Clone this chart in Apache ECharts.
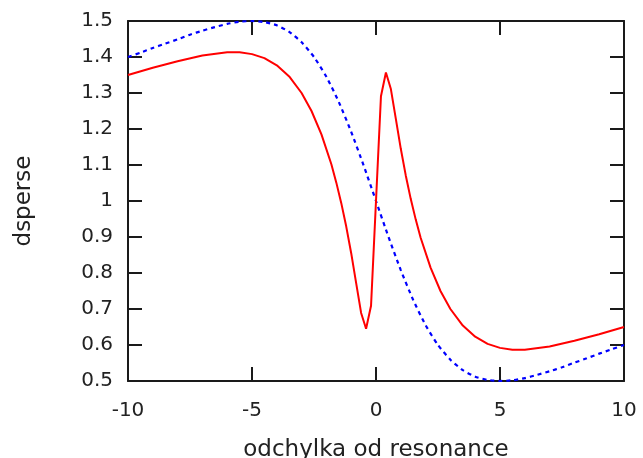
<!DOCTYPE html>
<html>
<head>
<meta charset="utf-8">
<script src="https://cdn.jsdelivr.net/npm/echarts@6/dist/echarts.min.js"></script>
<style>html,body{margin:0;padding:0;background:#fff}#c{width:643px;height:458px}</style>
</head>
<body>
<div id="c"></div>
<script>
// Data
var xTicks = [-10, -5, 0, 5, 10];
var redX = [-10, -9, -8, -7, -6, -5.5, -5, -4.5, -4, -3.5, -3, -2.6, -2.2, -1.8, -1.6, -1.4, -1.2, -1.0, -0.8, -0.6, -0.4, -0.2, 0, 0.2, 0.4, 0.6, 0.8, 1.0, 1.2, 1.4, 1.6, 1.8, 2.2, 2.6, 3, 3.5, 4, 4.5, 5, 5.5, 6, 7, 8, 9, 10];
var redY = [1.350, 1.370, 1.388, 1.404, 1.413, 1.413, 1.408, 1.397, 1.377, 1.346, 1.300, 1.250, 1.185, 1.102, 1.051, 0.994, 0.929, 0.855, 0.772, 0.689, 0.645, 0.709, 1.000, 1.291, 1.357, 1.311, 1.228, 1.145, 1.071, 1.006, 0.949, 0.898, 0.815, 0.750, 0.700, 0.654, 0.623, 0.603, 0.592, 0.587, 0.587, 0.596, 0.612, 0.630, 0.650];
var blueX = [-10, -9.5, -9, -8.5, -8, -7.5, -7, -6.5, -6, -5.5, -5, -4.5, -4, -3.5, -3, -2.5, -2, -1.5, -1, -0.5, 0, 0.5, 1, 1.5, 2, 2.5, 3, 3.5, 4, 4.5, 5, 5.5, 6, 6.5, 7, 7.5, 8, 8.5, 9, 9.5, 10];
var blueY = [1.400, 1.412, 1.425, 1.437, 1.449, 1.462, 1.473, 1.483, 1.492, 1.498, 1.500, 1.497, 1.488, 1.470, 1.441, 1.400, 1.345, 1.275, 1.192, 1.099, 1.000, 0.901, 0.808, 0.725, 0.655, 0.600, 0.559, 0.530, 0.512, 0.503, 0.500, 0.502, 0.508, 0.517, 0.527, 0.538, 0.551, 0.563, 0.576, 0.588, 0.600];

function pairs(xs, ys) { return xs.map(function (x, i) { return [x, ys[i]]; }); }

var chart = echarts.init(document.getElementById('c'), null, { renderer: 'canvas' });
var FONT = 'DejaVu Sans, sans-serif';
var lineCol = '#1a1a1a';
var txtCol = '#222222';
var tickStyle = { show: true, inside: true, length: 14, lineStyle: { color: lineCol, width: 2 } };
var axLine = { show: true, onZero: false, lineStyle: { color: lineCol, width: 2 } };

chart.setOption({
  animation: false,
  backgroundColor: '#ffffff',
  grid: { left: 128, right: 19, top: 21, bottom: 77, containLabel: false, outerBoundsMode: 'none' },
  xAxis: [{
    type: 'value', min: -10, max: 10, interval: 5, position: 'bottom',
    axisLine: axLine, axisTick: tickStyle, splitLine: { show: false },
    axisLabel: { fontSize: 20, color: txtCol, fontFamily: FONT, margin: 20,
      formatter: function (v) { return String(v); } },
    name: 'odchylka od resonance', nameLocation: 'middle', nameGap: 58,
    nameTextStyle: { fontSize: 23, color: txtCol, fontFamily: FONT }
  }, {
    type: 'value', min: -10, max: 10, interval: 5, position: 'top',
    axisLine: axLine, axisTick: tickStyle, splitLine: { show: false },
    axisLabel: { show: false }
  }],
  yAxis: [{
    type: 'value', min: 0.5, max: 1.5, interval: 0.1, position: 'left',
    axisLine: axLine, axisTick: tickStyle, splitLine: { show: false },
    axisLabel: { fontSize: 20, color: txtCol, fontFamily: FONT, margin: 15,
      formatter: function (v) { return String(+v.toFixed(1)); } },
    name: 'dsperse', nameLocation: 'middle', nameGap: 92, nameRotate: 90,
    nameTextStyle: { fontSize: 23, color: txtCol, fontFamily: FONT }
  }, {
    type: 'value', min: 0.5, max: 1.5, interval: 0.1, position: 'right',
    axisLine: axLine, axisTick: tickStyle, splitLine: { show: false },
    axisLabel: { show: false }
  }],
  series: [{
    type: 'line', name: 'red', xAxisIndex: 0, yAxisIndex: 0,
    data: pairs(redX, redY), showSymbol: false, symbol: 'none', clip: false,
    lineStyle: { color: '#ff0000', width: 2 }, z: 3
  }, {
    type: 'line', name: 'blue', xAxisIndex: 0, yAxisIndex: 0,
    data: pairs(blueX, blueY), showSymbol: false, symbol: 'none', clip: false, smooth: 0.2,
    lineStyle: { color: '#0000ff', width: 2.2, type: [4, 4] }, z: 2
  }]
});
</script>
</body>
</html>
